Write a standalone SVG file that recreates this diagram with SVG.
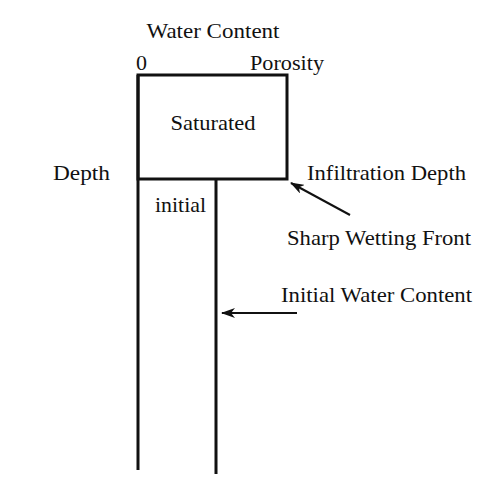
<svg xmlns="http://www.w3.org/2000/svg" width="480" height="480" viewBox="0 0 480 480">
<defs>
<style>
.ln{stroke:#111;stroke-width:3;fill:none}
.ar{stroke:#111;stroke-width:2;fill:none}
</style>
<marker id="ah" viewBox="0 0 14 10" refX="13" refY="5" markerWidth="14" markerHeight="10" markerUnits="userSpaceOnUse" orient="auto"><path d="M0,0 L14,5 L0,10 L4,5 Z" fill="#111"/></marker>
</defs>
<rect width="480" height="480" fill="#fff"/>
<g font-family="Liberation Serif, DejaVu Serif, serif" font-size="22" fill="#111">
<g id="labels">
<text x="213" y="38" text-anchor="middle" textLength="133" lengthAdjust="spacingAndGlyphs">Water Content</text>
<text x="136" y="70">0</text>
<text x="250" y="70" textLength="74" lengthAdjust="spacingAndGlyphs">Porosity</text>
<text x="53" y="180" textLength="57" lengthAdjust="spacingAndGlyphs">Depth</text>
<text x="307" y="180" textLength="159" lengthAdjust="spacingAndGlyphs">Infiltration Depth</text>
<text x="287" y="245" textLength="184" lengthAdjust="spacingAndGlyphs">Sharp Wetting Front</text>
<text x="281" y="302" textLength="191" lengthAdjust="spacingAndGlyphs">Initial Water Content</text>
</g>
<g id="saturated">
<rect class="ln" x="138" y="75" width="149" height="104"/>
<text x="213" y="130" text-anchor="middle" textLength="85" lengthAdjust="spacingAndGlyphs">Saturated</text>
</g>
<g id="initial">
<text x="155" y="212" textLength="51" lengthAdjust="spacingAndGlyphs">initial</text>
</g>
</g>
<g id="connectors">
<line class="ln" x1="138" y1="75" x2="138" y2="470"/>
<line class="ln" x1="216" y1="179" x2="216" y2="474"/>
<line class="ar" x1="350" y1="215" x2="291" y2="183" marker-end="url(#ah)"/>
<line class="ar" x1="297" y1="313" x2="222" y2="313" marker-end="url(#ah)"/>
</g>
</svg>
